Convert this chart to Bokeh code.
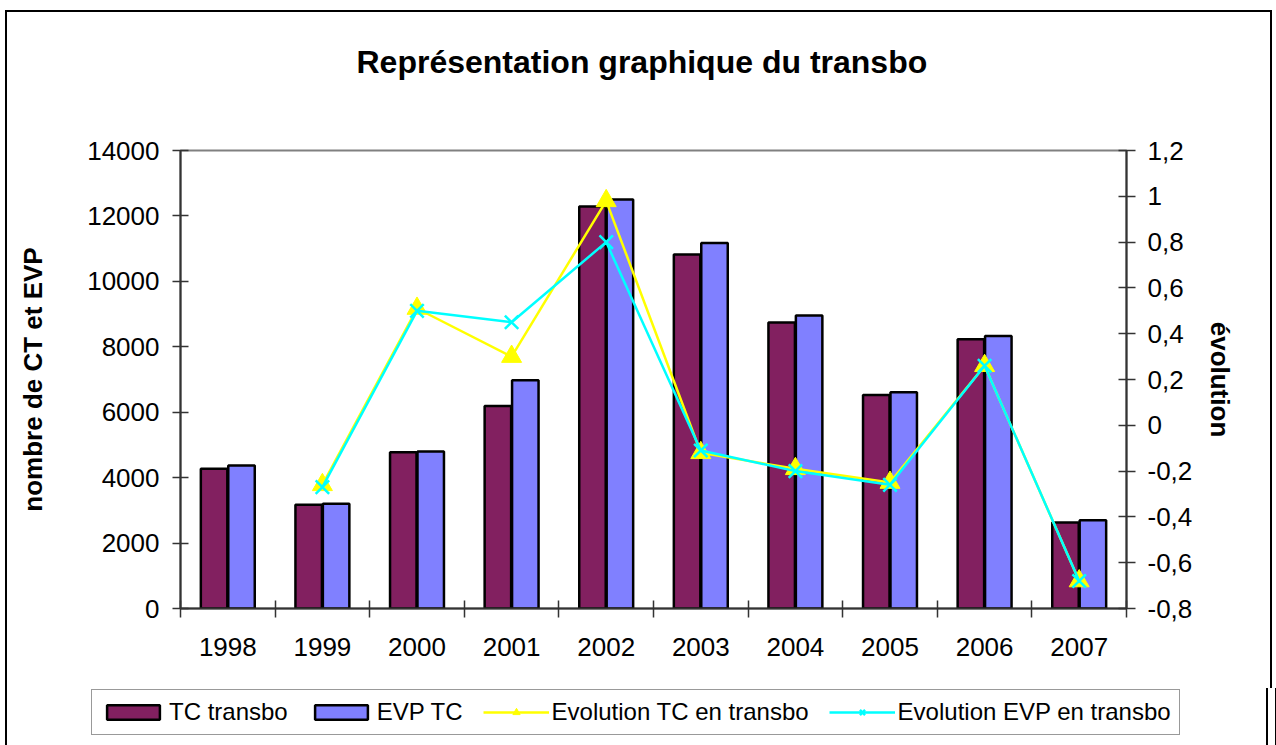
from bokeh.plotting import figure
from bokeh.models import (Range1d, LinearAxis, FixedTicker, CustomJSTickFormatter,
                          Legend, LegendItem, ColumnDataSource, Title)
from bokeh.transform import dodge
from bokeh.embed import file_html
from bokeh.resources import INLINE

# ---- data ----
years = [1998, 1999, 2000, 2001, 2002, 2003, 2004, 2005, 2006, 2007]
tc_transbo = [4270, 3170, 4780, 6190, 12290, 10820, 8740, 6530, 8230, 2630]
evp_tc = [4370, 3200, 4800, 6980, 12500, 11170, 8960, 6610, 8330, 2700]
evol_years = [1999, 2000, 2001, 2002, 2003, 2004, 2005, 2006, 2007]
evol_tc = [-0.26, 0.51, 0.30, 0.98, -0.12, -0.19, -0.25, 0.26, -0.68]
evol_evp = [-0.27, 0.50, 0.45, 0.80, -0.11, -0.20, -0.26, 0.26, -0.68]
left_ticks = [0, 2000, 4000, 6000, 8000, 10000, 12000, 14000]
right_ticks = [-0.8, -0.6, -0.4, -0.2, 0, 0.2, 0.4, 0.6, 0.8, 1.0, 1.2]
title_text = "Représentation graphique du transbo"
left_label = "nombre de CT et EVP"
right_label = "évolution"
labels = ["TC transbo", "EVP TC", "Evolution TC en transbo", "Evolution EVP en transbo"]

FONT = "Liberation Sans"
TC_COLOR = "#822060"
EVP_COLOR = "#8080FF"
AXIS_COLOR = "#333333"

bars = ColumnDataSource(dict(year=years, tc=tc_transbo, evp=evp_tc))
ev_tc = ColumnDataSource(dict(year=evol_years, v=evol_tc))
ev_evp = ColumnDataSource(dict(year=evol_years, v=evol_evp))


def draw_series(fig):
    r_tc = fig.vbar(x=dodge("year", -0.145, range=fig.x_range), top="tc", width=0.28, source=bars,
                    fill_color=TC_COLOR, line_color="black", line_width=2.5)
    r_evp = fig.vbar(x=dodge("year", 0.145, range=fig.x_range), top="evp", width=0.28, source=bars,
                     fill_color=EVP_COLOR, line_color="black", line_width=2.5)
    l_tc = fig.line("year", "v", source=ev_tc, y_range_name="evol", line_color="#FFFF00", line_width=2.5)
    m_tc = fig.scatter("year", "v", source=ev_tc, y_range_name="evol", marker="triangle", size=20,
                       fill_color="#FFFF00", line_color="#FFFF00")
    l_evp = fig.line("year", "v", source=ev_evp, y_range_name="evol", line_color="#00FFFF", line_width=2.5)
    m_evp = fig.scatter("year", "v", source=ev_evp, y_range_name="evol", marker="x", size=19,
                        line_color="#00FFFF", line_width=2.5)
    return r_tc, r_evp, l_tc, m_tc, l_evp, m_evp


# ---------------- main chart ----------------
p = figure(width=1276, height=688,
           x_range=Range1d(years[0] - 0.5, years[-1] + 0.5),
           y_range=Range1d(0, 14000),
           output_backend="svg", toolbar_location=None,
           min_border_left=180, min_border_right=150,
           min_border_top=150, min_border_bottom=80)
p.extra_y_ranges = {"evol": Range1d(-0.8, 1.2)}
p.xgrid.visible = False
p.ygrid.visible = False
p.outline_line_color = "#808080"
p.outline_line_width = 2
p.background_fill_color = "white"
p.border_fill_alpha = 0
# chart border (left, top, right) drawn as layered inset shadows behind the transparent canvas border
p.styles = {"background-color": "white",
            "box-shadow": "inset 5px 0 0 0 #fff, inset 0 10px 0 0 #fff, inset -4px 0 0 0 #fff, "
                          "inset 7px 0 0 0 #000, inset 0 12px 0 0 #000, inset -6px 0 0 0 #000"}

# spacer between frame and title, then the title itself
p.add_layout(Title(text="\u00a0", text_font_size="12px", standoff=50), "above")
p.title.text = title_text
p.title.align = "left"
p.title.offset = 176
p.title.vertical_align = "bottom"
p.title.standoff = 10
p.title.text_font = FONT
p.title.text_font_size = "32px"
p.title.text_font_style = "bold"
p.title.text_color = "black"

draw_series(p)


def style_axis(ax):
    ax.axis_line_color = AXIS_COLOR
    ax.axis_line_width = 2
    ax.major_tick_line_color = AXIS_COLOR
    ax.major_tick_line_width = 1.5
    ax.minor_tick_line_color = AXIS_COLOR
    ax.minor_tick_line_width = 1.5
    ax.major_label_text_font = FONT
    ax.major_label_text_font_size = "26px"
    ax.major_label_text_color = "black"
    ax.axis_label_text_font = FONT
    ax.axis_label_text_font_size = "26px"
    ax.axis_label_text_font_style = "bold"
    ax.axis_label_text_color = "black"


xa = p.xaxis[0]
style_axis(xa)
xa.ticker = FixedTicker(ticks=years, minor_ticks=[y - 0.5 for y in years] + [years[-1] + 0.5])
xa.major_label_overrides = {y: str(y) for y in years}
xa.major_tick_in = 0
xa.major_tick_out = 0
xa.minor_tick_in = 8
xa.minor_tick_out = 9
xa.major_label_standoff = 20

ya = p.yaxis[0]
style_axis(ya)
ya.ticker = FixedTicker(ticks=left_ticks, minor_ticks=[])
ya.major_tick_in = 8
ya.major_tick_out = 8
ya.major_label_standoff = 13
ya.axis_label = left_label
ya.axis_label_standoff = 36

ra = LinearAxis(y_range_name="evol")
style_axis(ra)
ra.ticker = FixedTicker(ticks=right_ticks, minor_ticks=[])
ra.formatter = CustomJSTickFormatter(code="var s = (Math.round(tick*10)/10).toString(); if (s == '-0') s = '0'; return s.replace('.', ',');")
ra.major_tick_in = 8
ra.major_tick_out = 9
ra.major_label_standoff = 12
ra.axis_label = right_label
ra.axis_label_standoff = 10
p.add_layout(ra, "right")

# ---------------- legend strip ----------------
# same series, drawn out of view, only to feed the legend
q = figure(width=1276, height=57,
           x_range=Range1d(0, 1), y_range=Range1d(0, 1),
           output_backend="svg", toolbar_location=None,
           x_axis_type=None, y_axis_type=None,
           min_border_left=0, min_border_right=0, min_border_top=0, min_border_bottom=0)
q.extra_y_ranges = {"evol": Range1d(0, 1)}
q.xgrid.visible = False
q.ygrid.visible = False
q.outline_line_color = None
q.background_fill_alpha = 0
q.border_fill_alpha = 0
q.styles = {"background-color": "white",
            "box-shadow": "inset 5px 0 0 0 #fff, inset -8px 0 0 0 #fff, "
                          "inset 7px 0 0 0 #000, inset -10px 0 0 0 #000"}
r_tc, r_evp, l_tc, m_tc, l_evp, m_evp = draw_series(q)

legend = Legend(items=[LegendItem(label=labels[0], renderers=[r_tc]),
                       LegendItem(label=labels[1], renderers=[r_evp]),
                       LegendItem(label=labels[2], renderers=[l_tc, m_tc]),
                       LegendItem(label=labels[3], renderers=[l_evp, m_evp])],
                orientation="horizontal", location=(91, 10))
legend.label_text_font = FONT
legend.label_text_font_size = "24px"
legend.label_text_color = "black"
legend.glyph_width = 66
legend.glyph_height = 18
legend.label_standoff = 3
legend.spacing = 20
legend.padding = 8
legend.margin = 0
legend.border_line_color = "#333333"
legend.border_line_width = 1.5
legend.background_fill_color = "white"
legend.background_fill_alpha = 1
q.add_layout(legend, "center")

open("out.html", "w").write(file_html([p, q], INLINE))
